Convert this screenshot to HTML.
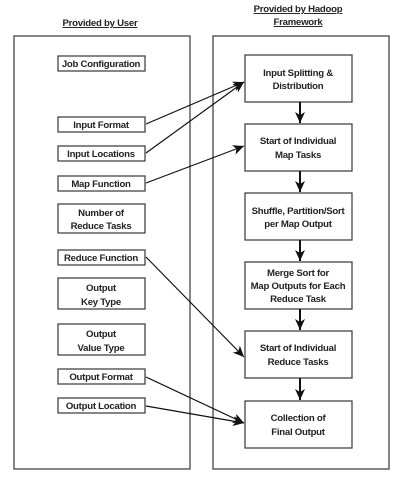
<!DOCTYPE html>
<html><head><style>
html,body{margin:0;padding:0;background:#fff;}
svg text{font-family:"Liberation Sans",sans-serif;font-weight:bold;font-size:9.6px;letter-spacing:-0.25px;fill:#222;text-anchor:middle;}
</style></head><body>
<svg width="406" height="481" viewBox="0 0 406 481" xmlns="http://www.w3.org/2000/svg">
<defs>
<marker id="b" markerWidth="12" markerHeight="10" refX="11" refY="5" orient="auto" markerUnits="userSpaceOnUse"><path d="M0,0 L11,5 L0,10 L3,5 Z" fill="#111"/></marker></defs>
<g stroke="#444" stroke-width="1.3" fill="none">
<rect x="14" y="36" width="176" height="433"/>
<rect x="213" y="36" width="176" height="433"/>
<rect x="58" y="56" width="87" height="15"/>
<rect x="58" y="117" width="87" height="15"/>
<rect x="58" y="146" width="87" height="15"/>
<rect x="58" y="176" width="87" height="15"/>
<rect x="58" y="204" width="87" height="29"/>
<rect x="58" y="250" width="87" height="15"/>
<rect x="58" y="278" width="87" height="31"/>
<rect x="58" y="324" width="87" height="31"/>
<rect x="58" y="369" width="87" height="15"/>
<rect x="58" y="398" width="87" height="15"/>
<rect x="245" y="55" width="107" height="47"/>
<rect x="245" y="124" width="107" height="47"/>
<rect x="245" y="193" width="107" height="47"/>
<rect x="245" y="262" width="107" height="47"/>
<rect x="245" y="331" width="107" height="47"/>
<rect x="245" y="401" width="107" height="47"/>
</g>
<g stroke="#111" stroke-width="2">
<line x1="300" y1="102" x2="300" y2="123" marker-end="url(#b)"/>
<line x1="300" y1="171" x2="300" y2="192" marker-end="url(#b)"/>
<line x1="300" y1="240" x2="300" y2="261" marker-end="url(#b)"/>
<line x1="300" y1="309" x2="300" y2="330" marker-end="url(#b)"/>
<line x1="300" y1="378" x2="300" y2="400" marker-end="url(#b)"/>
</g>
<g stroke="#111" stroke-width="1.2">
<line x1="146" y1="124" x2="244" y2="82" marker-end="url(#b)"/>
<line x1="146" y1="153" x2="244" y2="82" marker-end="url(#b)"/>
<line x1="146" y1="183" x2="244" y2="146" marker-end="url(#b)"/>
<line x1="146" y1="257" x2="244" y2="357" marker-end="url(#b)"/>
<line x1="146" y1="377" x2="244" y2="423" marker-end="url(#b)"/>
<line x1="146" y1="406" x2="244" y2="423" marker-end="url(#b)"/>
</g>
<text x="100" y="26" text-decoration="underline">Provided by User</text>
<text x="298" y="12" text-decoration="underline">Provided by Hadoop</text>
<text x="298" y="25" text-decoration="underline">Framework</text>
<text x="101" y="67">Job Configuration</text>
<text x="101" y="128">Input Format</text>
<text x="101" y="157">Input Locations</text>
<text x="101" y="187">Map Function</text>
<text x="101" y="216">Number of</text>
<text x="101" y="229">Reduce Tasks</text>
<text x="101" y="261">Reduce Function</text>
<text x="101" y="291">Output</text>
<text x="101" y="305">Key Type</text>
<text x="101" y="337">Output</text>
<text x="101" y="351">Value Type</text>
<text x="101" y="380">Output Format</text>
<text x="101" y="409">Output Location</text>
<text x="298" y="76">Input Splitting &amp;</text>
<text x="298" y="89">Distribution</text>
<text x="298" y="144">Start of Individual</text>
<text x="298" y="158">Map Tasks</text>
<text x="298" y="214">Shuffle, Partition/Sort</text>
<text x="298" y="227">per Map Output</text>
<text x="298" y="276">Merge Sort for</text>
<text x="298" y="289">Map Outputs for Each</text>
<text x="298" y="302">Reduce Task</text>
<text x="298" y="351">Start of Individual</text>
<text x="298" y="365">Reduce Tasks</text>
<text x="298" y="421">Collection of</text>
<text x="298" y="435">Final Output</text>
</svg>
</body></html>
